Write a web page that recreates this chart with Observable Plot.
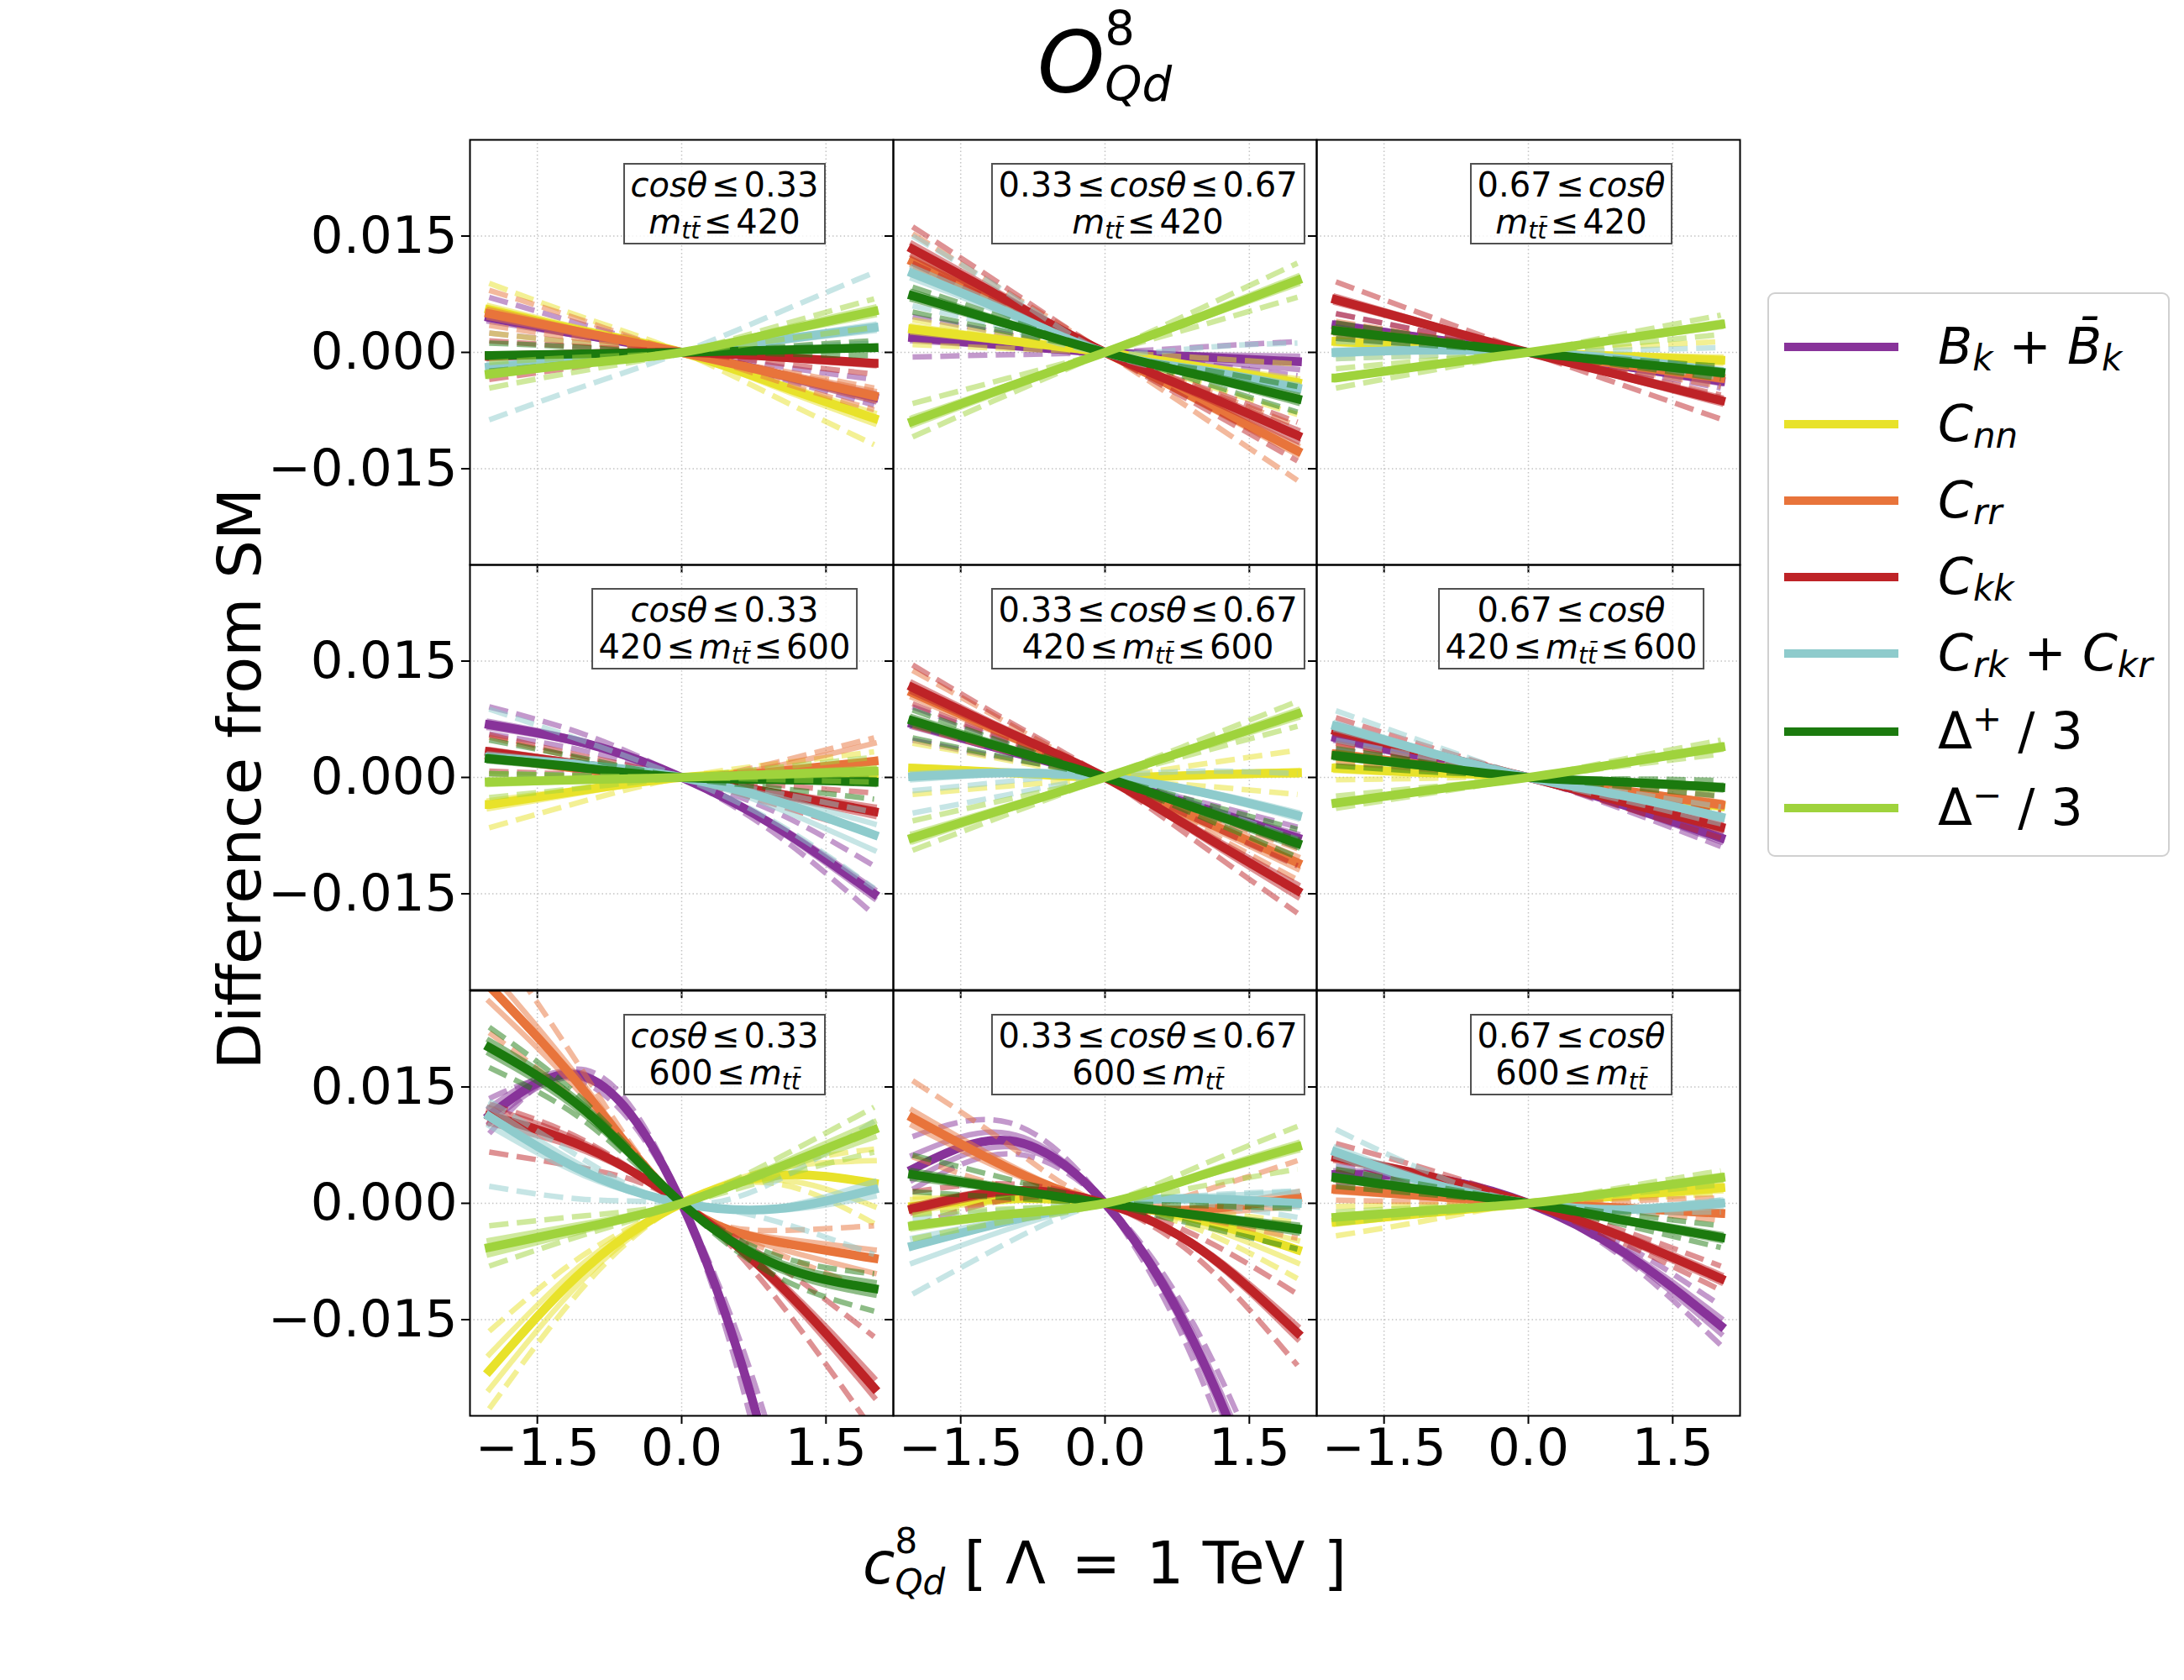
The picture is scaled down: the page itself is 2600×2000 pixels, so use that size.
<!DOCTYPE html>
<html><head><meta charset="utf-8">
<script src="https://cdn.jsdelivr.net/npm/d3@7"></script>
<script src="https://cdn.jsdelivr.net/npm/@observablehq/plot@0.6"></script>
<style>
body{margin:0;background:#fff;}
#page{position:relative;width:2600px;height:2000px;background:#fff;font-family:"DejaVu Sans",sans-serif;overflow:hidden;color:#000;}
.box{position:absolute;transform:translateX(-50%);border:2px solid #505050;background:rgba(255,255,255,0.8);font-size:40px;line-height:44px;text-align:center;padding:2px 7px 3px;white-space:nowrap;}
.rel{margin:0 0.12em;}
.sb{font-size:0.7em;vertical-align:-0.2em;line-height:0;}
.sp{font-size:0.7em;vertical-align:0.5em;line-height:0;}
.stk{display:inline-flex;flex-direction:column;align-items:flex-start;line-height:1.17;}
#title{position:absolute;left:0;width:2630px;top:2px;text-align:center;font-size:102px;line-height:1;}
#title .stk{font-size:0.55em;vertical-align:1em;}
#xlabel{position:absolute;left:0;width:2630px;top:1810px;text-align:center;font-size:70px;line-height:1;white-space:nowrap;}
#xlabel .stk{font-size:0.6em;vertical-align:0.857em;}
#ylabel{position:absolute;left:285px;top:927px;font-size:72px;line-height:1;white-space:nowrap;transform:translate(-50%,-50%) rotate(-90deg);}
#legend{position:absolute;left:2104px;top:348px;width:475px;height:668px;border:2px solid #d0d0d0;border-radius:9px;background:rgba(255,255,255,0.8);}
.lgline{position:absolute;left:18px;width:136px;height:10px;}
.lgtext{position:absolute;left:201px;font-size:60px;line-height:60px;white-space:nowrap;}
g[aria-label="x-axis tick"], g[aria-label="y-axis tick"]{stroke-width:2px;}
</style>
</head>
<body>
<div id="page">
  <div id="title"><i>O</i><span class="stk"><span>8</span><span><i>Qd</i></span></span></div>
  <div id="ylabel">Difference from SM</div>
  <div id="xlabel"><i>c</i><span class="stk"><span>8</span><span><i>Qd</i></span></span> [ Λ<span class="rel"> = </span>1 TeV ]</div>
  <div id="legend"></div>
</div>
<script>
// ---------- chart data ----------
const cGrid = [-2, -1, 0, 1, 2];               // c_Qd^8 sample points
const xTicks = [-1.5, 0, 1.5];
const yTicks = [-0.015, 0, 0.015];
const obsKeys = ["Bk", "Cnn", "Crr", "Ckk", "Crk", "Dp", "Dm"];
const obsColors = ["#88339a", "#e8e22a", "#e8743b", "#be2327", "#8ecbcc", "#1b7a0e", "#9fd33c"];
const obsLabels = [
  '<i>B</i><span class="sb"><i>k</i></span> + <i>B\u0304</i><span class="sb"><i>k</i></span>',
  '<i>C</i><span class="sb"><i>nn</i></span>',
  '<i>C</i><span class="sb"><i>rr</i></span>',
  '<i>C</i><span class="sb"><i>kk</i></span>',
  '<i>C</i><span class="sb"><i>rk</i></span> + <i>C</i><span class="sb"><i>kr</i></span>',
  'Δ<span class="sp">+</span>  / 3',
  'Δ<span class="sp">−</span>  / 3'
];
const cosBinLabels = [
  '<i>cosθ</i><span class="rel">≤</span>0.33',
  '0.33<span class="rel">≤</span><i>cosθ</i><span class="rel">≤</span>0.67',
  '0.67<span class="rel">≤</span><i>cosθ</i>'
];
const massBinLabels = [
  '<i>m</i><span class="sb"><i>tt\u0304</i></span><span class="rel">≤</span>420',
  '420<span class="rel">≤</span><i>m</i><span class="sb"><i>tt\u0304</i></span><span class="rel">≤</span>600',
  '600<span class="rel">≤</span><i>m</i><span class="sb"><i>tt\u0304</i></span>'
];

// rows: [observable, kind (c = central, s = light solid, d = dashed), y at c=-2,-1,0,1,2] in units of 1e-3
const p11 = [
 [0,"c",4.5,2.2,0,-2.8,-5.8],[0,"s",5.0,2.5,0,-3.1,-6.3],[0,"s",4.0,2.0,0,-2.6,-5.3],[0,"d",7.1,3.5,0,-3.3,-6.8],[0,"d",2.5,1.2,0,-1.8,-3.5],
 [1,"c",5.5,2.7,0,-4.2,-8.5],[1,"s",6.0,3.0,0,-4.6,-9.2],[1,"s",5.0,2.5,0,-3.9,-7.8],[1,"d",8.9,4.4,0,-5.9,-11.9],[1,"d",2.5,1.2,0,-2.8,-5.5],
 [2,"c",5.0,2.5,0,-2.8,-5.6],[2,"s",5.5,2.7,0,-3.1,-6.2],[2,"s",4.5,2.2,0,-2.5,-5.0],[2,"d",8.0,4.0,0,-2.3,-4.6],[2,"d",3.5,1.7,0,-3.7,-7.4],
 [3,"c",-0.5,-0.2,0,-0.6,-1.4],[3,"s",-0.3,-0.1,0,-0.5,-1.2],[3,"s",-0.8,-0.3,0,-0.8,-1.7],[3,"d",1.5,0.7,0,-1.4,-2.8],[3,"d",-3.5,-1.7,0,0.3,0.6],
 [4,"c",-1.9,-0.9,0,1.6,3.2],[4,"s",-1.5,-0.7,0,1.4,2.8],[4,"s",-2.3,-1.1,0,1.8,3.6],[4,"d",-8.7,-4.3,0,5.1,10.3],[4,"d",-0.5,-0.2,0,0.6,1.2],
 [5,"c",-0.4,-0.2,0,0.3,0.6],[5,"s",-0.2,-0.1,0,0.4,0.8],[5,"s",-0.6,-0.3,0,0.2,0.4],[5,"d",1.2,0.6,0,0.7,1.5],[5,"d",-2.4,-1.2,0,-0.2,-0.4],
 [6,"c",-2.8,-1.4,0,2.6,5.3],[6,"s",-2.5,-1.2,0,2.9,5.8],[6,"s",-3.1,-1.5,0,2.4,4.8],[6,"d",-4.6,-2.3,0,3.4,6.9],[6,"d",-1.3,-0.6,0,1.6,3.2]
];
const p12 = [
 [0,"c",1.9,0.9,0,-0.6,-1.2],[0,"s",2.3,1.1,0,-1.1,-2.2],[0,"s",1.5,0.7,0,-0.3,-0.5],[0,"d",4.6,2.3,0,-1.5,-3.0],[0,"d",-0.6,-0.3,0,0.7,1.4],
 [1,"c",3.0,1.5,0,-1.9,-3.9],[1,"s",3.4,1.7,0,-2.2,-4.4],[1,"s",2.6,1.3,0,-1.7,-3.4],[1,"d",4.2,2.1,0,-4.0,-8.0],[1,"d",1.0,0.5,0,-0.7,-1.5],
 [2,"c",11.7,5.8,0,-6.3,-12.7],[2,"s",12.2,6.1,0,-6.6,-13.2],[2,"s",11.2,5.6,0,-6.0,-12.0],[2,"d",15.3,7.6,0,-8.2,-16.5],[2,"d",10.8,5.4,0,-4.7,-9.5],
 [3,"c",13.3,6.6,0,-5.3,-10.7],[3,"s",14.0,7.0,0,-5.7,-11.5],[3,"s",12.5,6.2,0,-5.0,-10.0],[3,"d",16.2,8.1,0,-7.0,-14.0],[3,"d",11.5,5.7,0,-4.5,-9.0],
 [4,"c",10.2,5.1,0,-2.3,-4.6],[4,"s",11.0,5.5,0,-2.5,-5.0],[4,"s",9.5,4.7,0,-2.1,-4.2],[4,"d",15.0,7.5,0,-3.0,-6.0],[4,"d",6.0,3.0,0,0.6,1.2],
 [5,"c",7.3,3.6,0,-3.0,-6.0],[5,"s",7.8,3.9,0,-3.2,-6.5],[5,"s",6.8,3.4,0,-2.7,-5.5],[5,"d",8.4,4.2,0,-2.2,-4.4],[5,"d",5.2,2.6,0,-3.8,-7.7],
 [6,"c",-8.9,-4.4,0,4.6,9.3],[6,"s",-9.4,-4.7,0,4.9,9.8],[6,"s",-8.4,-4.2,0,4.4,8.8],[6,"d",-10.9,-5.4,0,5.7,11.5],[6,"d",-6.6,-3.3,0,3.5,7.1]
];
const p13 = [
 [0,"c",3.5,1.7,0,-1.8,-3.7],[0,"s",3.8,1.9,0,-2.0,-4.0],[0,"s",3.2,1.6,0,-1.7,-3.4],[0,"d",5.0,2.5,0,-2.3,-4.6],[0,"d",2.8,1.4,0,-1.5,-3.0],
 [1,"c",1.4,0.7,0,-0.5,-1.0],[1,"s",1.7,0.8,0,-0.7,-1.4],[1,"s",1.1,0.5,0,-0.3,-0.6],[1,"d",2.8,1.4,0,-1.2,-2.5],[1,"d",-0.8,-0.4,0,0.7,1.4],
 [2,"c",2.8,1.4,0,-1.6,-3.3],[2,"s",3.1,1.5,0,-1.8,-3.6],[2,"s",2.5,1.2,0,-1.5,-3.0],[2,"d",4.0,2.0,0,-2.2,-4.4],[2,"d",1.8,0.9,0,-1.0,-2.1],
 [3,"c",6.8,3.4,0,-3.1,-6.2],[3,"s",7.2,3.6,0,-3.3,-6.6],[3,"s",6.4,3.2,0,-2.9,-5.8],[3,"d",9.1,4.5,0,-4.3,-8.6],[3,"d",5.0,2.5,0,-2.7,-5.5],
 [4,"c",0.0,0.3,0,-0.9,-2.5],[4,"s",0.3,0.4,0,-0.8,-2.2],[4,"s",-0.3,0.2,0,-1.0,-2.8],[4,"d",-0.8,-0.4,0,0.3,0.6],[4,"d",1.4,0.9,0,-1.4,-3.3],
 [5,"c",2.8,1.4,0,-1.3,-2.6],[5,"s",3.1,1.5,0,-1.4,-2.9],[5,"s",2.5,1.2,0,-1.2,-2.3],[5,"d",3.8,1.9,0,-1.7,-3.4],[5,"d",1.8,0.9,0,-0.9,-1.8],
 [6,"c",-3.3,-1.6,0,1.8,3.6],[6,"s",-3.5,-1.7,0,1.9,3.9],[6,"s",-3.1,-1.5,0,1.7,3.3],[6,"d",-4.6,-2.3,0,2.4,4.8],[6,"d",-2.1,-1.0,0,1.1,2.3]
];
const p21 = [
 [0,"c",6.8,4.4,0,-6.5,-15.0],[0,"s",7.2,4.6,0,-6.8,-15.6],[0,"s",6.4,4.2,0,-6.2,-14.4],[0,"d",9.1,5.5,0,-7.5,-17.7],[0,"d",5.6,3.4,0,-4.6,-11.4],
 [1,"c",-3.5,-1.6,0,0.6,0.5],[1,"s",-4.0,-1.9,0,0.8,1.2],[1,"s",-3.0,-1.4,0,0.3,0.0],[1,"d",-6.5,-3.0,0,1.8,3.3],[1,"d",-0.6,-0.3,0,-0.2,-0.4],
 [2,"c",2.8,1.0,0,0.8,2.1],[2,"s",3.2,1.2,0,1.5,4.4],[2,"s",2.4,0.8,0,0.3,0.8],[2,"d",5.2,2.2,0,2.0,5.1],[2,"d",0.5,0.1,0,-0.3,-0.8],
 [3,"c",3.3,1.6,0,-2.1,-4.4],[3,"s",3.6,1.8,0,-2.4,-5.0],[3,"s",3.0,1.5,0,-1.9,-3.8],[3,"d",5.5,2.7,0,-3.6,-7.3],[3,"d",0.8,0.4,0,-1.0,-2.0],
 [4,"c",2.6,1.6,0,-3.1,-7.4],[4,"s",3.0,1.8,0,-4.0,-9.4],[4,"s",2.2,1.3,0,-2.6,-6.0],[4,"d",8.8,4.6,0,-6.0,-14.3],[4,"d",0.5,0.3,0,-2.0,-4.5],
 [5,"c",2.4,1.2,0,-0.3,-0.6],[5,"s",2.7,1.3,0,-0.4,-0.9],[5,"s",2.1,1.0,0,-0.2,-0.3],[5,"d",4.8,2.4,0,-1.4,-2.8],[5,"d",0.5,0.2,0,0.0,0.1],
 [6,"c",-0.6,-0.3,0,0.4,0.8],[6,"s",-0.9,-0.4,0,0.6,1.2],[6,"s",-0.3,-0.1,0,0.2,0.4],[6,"d",-2.6,-1.3,0,1.3,2.6],[6,"d",0.5,0.2,0,-0.3,-0.6]
];
const p22 = [
 [0,"c",6.9,3.4,0,-3.9,-7.8],[0,"s",7.3,3.6,0,-4.1,-8.3],[0,"s",6.5,3.2,0,-3.7,-7.3],[0,"d",9.1,4.5,0,-3.2,-6.4],[0,"d",4.8,2.4,0,-4.4,-8.9],
 [1,"c",1.2,0.6,0,0.3,0.6],[1,"s",1.4,0.7,0,0.4,0.9],[1,"s",1.0,0.5,0,0.2,0.3],[1,"d",4.4,2.2,0,-1.1,-2.2],[1,"d",-2.2,-1.1,0,1.7,3.5],
 [2,"c",10.9,5.4,0,-5.5,-11.0],[2,"s",11.5,5.7,0,-5.9,-11.8],[2,"s",10.3,5.1,0,-5.1,-10.2],[2,"d",13.8,6.9,0,-6.6,-13.2],[2,"d",6.6,3.3,0,-4.6,-9.2],
 [3,"c",11.6,5.8,0,-7.3,-14.6],[3,"s",12.2,6.1,0,-7.7,-15.4],[3,"s",11.0,5.5,0,-6.9,-13.8],[3,"d",14.5,7.2,0,-8.7,-17.5],[3,"d",9.5,4.7,0,-5.7,-11.4],
 [4,"c",0.1,0.6,0,-1.9,-4.9],[4,"s",-0.3,0.4,0,-2.1,-5.3],[4,"s",0.5,0.8,0,-1.7,-4.5],[4,"d",-4.6,-2.2,0,0.8,0.5],[4,"d",-1.7,-0.5,0,-3.5,-8.0],
 [5,"c",7.3,3.6,0,-4.2,-8.5],[5,"s",7.8,3.9,0,-4.5,-9.0],[5,"s",6.8,3.4,0,-3.9,-8.0],[5,"d",8.7,4.3,0,-5.1,-10.3],[5,"d",5.1,2.5,0,-3.3,-6.7],
 [6,"c",-7.8,-3.9,0,4.1,8.2],[6,"s",-8.3,-4.1,0,4.3,8.7],[6,"s",-7.3,-3.6,0,3.8,7.7],[6,"d",-9.4,-4.7,0,4.9,9.8],[6,"d",-5.6,-2.8,0,3.3,6.6]
];
const p23 = [
 [0,"c",5.1,2.4,0,-3.6,-7.8],[0,"s",5.5,2.6,0,-3.8,-8.3],[0,"s",4.7,2.2,0,-3.4,-7.3],[0,"d",6.9,3.3,0,-4.2,-8.9],[0,"d",3.7,1.8,0,-3.0,-6.4],
 [1,"c",1.2,0.6,0,-1.8,-3.7],[1,"s",1.5,0.7,0,-2.0,-4.0],[1,"s",0.9,0.4,0,-1.6,-3.3],[1,"d",-0.3,-0.1,0,-0.8,-1.7],[1,"d",2.3,1.1,0,-2.1,-4.2],
 [2,"c",3.0,1.5,0,-1.7,-3.5],[2,"s",3.3,1.6,0,-1.9,-3.8],[2,"s",2.7,1.3,0,-1.6,-3.2],[2,"d",4.2,2.1,0,-2.2,-4.5],[2,"d",2.0,1.0,0,-1.2,-2.5],
 [3,"c",6.0,3.0,0,-3.2,-6.4],[3,"s",6.4,3.2,0,-3.4,-6.8],[3,"s",5.6,2.8,0,-3.0,-6.0],[3,"d",7.7,3.8,0,-3.9,-7.8],[3,"d",4.4,2.2,0,-2.3,-4.6],
 [4,"c",6.6,3.1,0,-2.4,-5.1],[4,"s",7.0,3.3,0,-2.5,-5.3],[4,"s",6.2,2.9,0,-2.3,-4.9],[4,"d",8.6,4.2,0,-3.0,-6.0],[4,"d",4.8,2.4,0,-1.9,-3.8],
 [5,"c",2.8,1.4,0,-0.6,-1.3],[5,"s",3.1,1.5,0,-0.8,-1.6],[5,"s",2.5,1.2,0,-0.5,-1.0],[5,"d",3.7,1.8,0,-0.2,-0.4],[5,"d",1.5,0.7,0,-1.2,-2.4],
 [6,"c",-3.3,-1.6,0,1.9,3.9],[6,"s",-3.5,-1.7,0,2.1,4.2],[6,"s",-3.1,-1.5,0,1.8,3.6],[6,"d",-4.0,-2.0,0,2.4,4.8],[6,"d",-2.4,-1.2,0,1.5,3.0]
];
const p31 = [
 [0,"c",11.3,16.3,0,-37.6,-96.5],[0,"s",12.3,16.6,0,-37.5,-95.9],[0,"s",10.3,16.0,0,-37.7,-97.1],[0,"d",9.0,17.2,0,-42.6,-110.6],[0,"d",13.5,15.5,0,-33.0,-83.5],
 [1,"c",-21.6,-8.4,0,3.6,2.6],[1,"s",-19.5,-7.5,0,3.0,-0.4],[1,"s",-24.0,-9.5,0,4.5,5.5],[1,"d",-26.5,-10.5,0,2.5,-2.6],[1,"d",-16.5,-6.5,0,4.8,7.0],
 [2,"c",28.0,14.3,0,-5.0,-7.1],[2,"s",30.0,15.0,0,-4.5,-6.0],[2,"s",26.0,13.5,0,-5.8,-9.0],[2,"d",35.0,16.5,0,-3.5,-2.9],[2,"d",22.0,12.0,0,-6.5,-11.5],
 [3,"c",11.3,7.2,0,-10.3,-23.8],[3,"s",12.3,7.7,0,-9.8,-22.5],[3,"s",10.3,6.7,0,-10.8,-25.0],[3,"d",6.6,4.5,0,-12.5,-29.5],[3,"d",12.8,8.0,0,-8.0,-17.2],
 [4,"c",11.2,4.0,0,-0.7,1.8],[4,"s",10.0,3.5,0,-0.9,0.9],[4,"s",12.4,4.6,0,-0.5,2.8],[4,"d",2.2,0.5,0,-2.4,-6.6],[4,"d",13.2,5.5,0,3.0,10.6],
 [5,"c",20.1,11.9,0,-8.0,-11.0],[5,"s",21.0,12.5,0,-8.5,-11.8],[5,"s",19.3,11.3,0,-7.5,-10.2],[5,"d",22.7,13.0,0,-9.5,-13.9],[5,"d",17.5,10.5,0,-6.8,-9.1],
 [6,"c",-5.7,-3.1,0,4.6,9.5],[6,"s",-6.6,-3.5,0,5.0,10.5],[6,"s",-4.8,-2.6,0,4.2,8.5],[6,"d",-8.1,-4.0,0,5.8,12.4],[6,"d",-2.9,-1.6,0,3.4,6.6]
];
const p32 = [
 [0,"c",4.4,8.1,0,-19.9,-51.6],[0,"s",6.2,9.0,0,-20.8,-53.4],[0,"s",3.0,7.3,0,-18.9,-49.4],[0,"d",8.6,10.4,0,-22.6,-57.4],[0,"d",1.8,6.4,0,-17.4,-45.8],
 [1,"c",-0.4,0.6,0,-2.2,-6.0],[1,"s",0.5,0.9,0,-2.8,-7.7],[1,"s",-1.0,0.3,0,-1.8,-4.8],[1,"d",-1.5,0.3,0,-3.5,-9.7],[1,"d",0.8,0.8,0,-1.0,-2.5],
 [2,"c",11.0,4.5,0,-0.8,0.7],[2,"s",12.0,5.0,0,-0.5,1.5],[2,"s",10.0,4.0,0,-1.2,-0.3],[2,"d",15.8,7.5,0,1.5,5.5],[2,"d",6.0,2.0,0,-2.0,-4.5],
 [3,"c",-0.7,1.6,0,-6.0,-16.7],[3,"s",-0.3,1.8,0,-6.3,-17.5],[3,"s",-1.2,1.3,0,-5.7,-15.8],[3,"d",1.5,2.5,0,-7.5,-20.9],[3,"d",-3.0,0.5,0,-4.5,-11.7],
 [4,"c",-5.5,-2.3,0,0.6,0.0],[4,"s",-7.7,-3.3,0,0.9,1.5],[4,"s",-4.5,-2.0,0,0.3,-0.5],[4,"d",-11.7,-5.0,0,0.0,-1.8],[4,"d",-2.0,-0.8,0,1.0,1.6],
 [5,"c",3.7,1.8,0,-1.6,-3.3],[5,"s",4.2,2.1,0,-1.9,-3.8],[5,"s",3.2,1.6,0,-1.4,-2.8],[5,"d",6.2,3.1,0,-2.9,-5.9],[5,"d",1.5,0.7,0,-0.3,-0.7],
 [6,"c",-2.9,-1.4,0,3.6,7.3],[6,"s",-3.3,-1.6,0,3.9,7.8],[6,"s",-2.6,-1.3,0,3.4,6.8],[6,"d",-4.6,-2.3,0,4.9,9.9],[6,"d",-1.5,-0.7,0,2.2,4.4]
];
const p33 = [
 [0,"c",3.7,3.2,0,-6.4,-15.8],[0,"s",4.2,3.5,0,-6.0,-14.8],[0,"s",3.2,2.9,0,-6.8,-16.8],[0,"d",2.6,2.6,0,-7.2,-18.3],[0,"d",4.8,3.6,0,-5.4,-13.2],
 [1,"c",-2.4,-1.2,0,1.0,2.0],[1,"s",-2.7,-1.3,0,1.2,2.4],[1,"s",-2.1,-1.0,0,0.8,1.6],[1,"d",-4.2,-2.1,0,0.6,1.3],[1,"d",-0.4,-0.2,0,1.4,2.9],
 [2,"c",1.8,0.9,0,-0.6,-1.3],[2,"s",2.1,1.0,0,-0.7,-1.5],[2,"s",1.5,0.7,0,-0.5,-1.1],[2,"d",2.9,1.4,0,0.3,0.7],[2,"d",0.4,0.2,0,-1.0,-2.2],
 [3,"c",5.9,3.4,0,-4.4,-9.7],[3,"s",6.3,3.6,0,-4.7,-10.2],[3,"s",5.5,3.2,0,-4.1,-9.2],[3,"d",7.7,4.2,0,-5.2,-11.2],[3,"d",4.4,2.6,0,-3.6,-8.1],
 [4,"c",6.6,2.5,0,-0.8,0.0],[4,"s",7.2,2.8,0,-0.6,0.4],[4,"s",6.0,2.2,0,-1.0,-0.4],[4,"d",9.5,3.8,0,-0.6,0.4],[4,"d",4.8,1.8,0,-1.1,-1.1],
 [5,"c",3.3,1.6,0,-2.2,-4.4],[5,"s",3.6,1.8,0,-2.4,-4.8],[5,"s",3.0,1.5,0,-2.0,-4.0],[5,"d",4.4,2.2,0,-2.8,-5.7],[5,"d",2.2,1.1,0,-1.4,-2.9],
 [6,"c",-1.8,-0.9,0,1.6,3.3],[6,"s",-2.0,-1.0,0,1.8,3.6],[6,"s",-1.6,-0.8,0,1.5,3.0],[6,"d",-2.6,-1.3,0,2.1,4.2],[6,"d",-1.1,-0.5,0,1.2,2.4]
];
const panels = [[p11, p12, p13], [p21, p22, p23], [p31, p32, p33]]; // rows: mass bins, cols: cos bins

// ---------- layout ----------
const colX = [559, 1063, 1567], rowY = [166, 672, 1179];
const PW = 504, PH = 506;
const ML = 240, MR = 10, MT = 10, MB = 90;
const page = document.getElementById("page");

function toPoints(rows) {
  const pts = [];
  rows.forEach((r, id) => {
    const [obs, kind, ...vals] = r;
    vals.forEach((v, j) => pts.push({id, obs, kind, c: cGrid[j], y: v * 1e-3}));
  });
  return pts;
}

panels.forEach((row, r) => row.forEach((rows, c) => {
  const pts = toPoints(rows);
  const isLeft = c === 0, isBottom = r === 2;
  const marks = [
    Plot.ruleX(xTicks, {stroke: "#c4c4c4", strokeWidth: 1.5, strokeDasharray: "1.5,3"}),
    Plot.ruleY(yTicks, {stroke: "#c4c4c4", strokeWidth: 1.5, strokeDasharray: "1.5,3"})
  ];
  obsKeys.forEach((k, o) => {
    const col = obsColors[o];
    marks.push(Plot.line(pts.filter(p => p.obs === o && p.kind === "d"),
      {x: "c", y: "y", z: "id", stroke: col, strokeOpacity: 0.5, strokeWidth: 6.5, strokeDasharray: "23,10", strokeLinecap: "butt", curve: "natural", clip: true}));
    marks.push(Plot.line(pts.filter(p => p.obs === o && p.kind === "s"),
      {x: "c", y: "y", z: "id", stroke: col, strokeOpacity: 0.5, strokeWidth: 6.5, strokeLinecap: "square", curve: "natural", clip: true}));
    marks.push(Plot.line(pts.filter(p => p.obs === o && p.kind === "c"),
      {x: "c", y: "y", z: "id", stroke: col, strokeWidth: 10.5, strokeLinecap: "square", curve: "natural", clip: true}));
  });
  marks.push(Plot.frame({stroke: "black", strokeWidth: 2}));

  const plot = Plot.plot({
    width: ML + PW + MR, height: MT + PH + MB,
    marginLeft: ML, marginRight: MR, marginTop: MT, marginBottom: MB,
    x: {domain: [-2.2, 2.2], ticks: xTicks, tickFormat: isBottom ? d3.format(".1f") : () => "", tickSize: 10, tickPadding: 5, label: null},
    y: {domain: [-0.0274, 0.0274], ticks: yTicks, tickFormat: isLeft ? d3.format(".3f") : () => "", tickSize: 10, tickPadding: 5, label: null},
    style: "background:transparent;font-family:'DejaVu Sans';font-size:61px;color:black;overflow:visible;",
    marks
  });
  plot.style.position = "absolute";
  plot.style.left = (colX[c] - ML) + "px";
  plot.style.top = (rowY[r] - MT) + "px";
  page.appendChild(plot);

  const box = document.createElement("div");
  box.className = "box";
  box.innerHTML = cosBinLabels[c] + "<br>" + massBinLabels[r];
  box.style.left = (colX[c] - ML + plot.scale("x").apply(0.45)) + "px";
  box.style.top = (rowY[r] + 28) + "px";
  page.appendChild(box);
}));

// legend
const legend = document.getElementById("legend");
const legendRowY = [63, 155, 246, 337, 428, 521, 612];
obsKeys.forEach((k, o) => {
  const ln = document.createElement("div");
  ln.className = "lgline";
  ln.style.top = (legendRowY[o] - 5) + "px";
  ln.style.background = obsColors[o];
  legend.appendChild(ln);
  const tx = document.createElement("div");
  tx.className = "lgtext";
  tx.style.top = (legendRowY[o] - 31) + "px";
  tx.innerHTML = obsLabels[o];
  legend.appendChild(tx);
});
</script>
</body></html>
